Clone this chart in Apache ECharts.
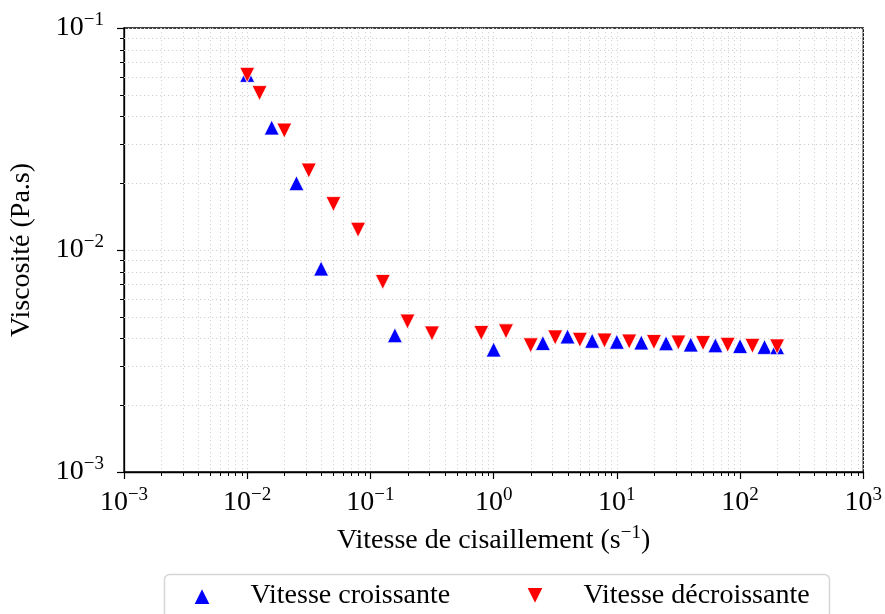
<!DOCTYPE html>
<html><head><meta charset="utf-8">
<script src="https://cdn.jsdelivr.net/npm/echarts@6/dist/echarts.min.js"></script>
<style>html,body{margin:0;padding:0;background:#fff}#c{width:885px;height:614px}</style>
</head><body><div id="c"></div>
<script>
// ---- data ----
const seriesNames = ['Vitesse croissante', 'Vitesse décroissante'];
const increasingShearRate = [0.01, 0.0158, 0.0251, 0.0398, 0.158, 1.0, 2.51, 3.98, 6.31, 10, 15.8, 25.1, 39.8, 63.1, 100, 158, 200];
const increasingViscosity = [0.0615, 0.0356, 0.0200, 0.00825, 0.00413, 0.00356, 0.00381, 0.00408, 0.00390, 0.00386, 0.00383, 0.00380, 0.00375, 0.00372, 0.00369, 0.00366, 0.00365];
const decreasingShearRate = [0.01, 0.0126, 0.02, 0.0316, 0.0501, 0.0794, 0.126, 0.2, 0.316, 0.794, 1.26, 2.0, 3.16, 5.01, 7.94, 12.6, 20, 31.6, 50.1, 79.4, 126, 200];
const decreasingViscosity = [0.0615, 0.0509, 0.0345, 0.0228, 0.0161, 0.01234, 0.00718, 0.00476, 0.00421, 0.00423, 0.00430, 0.00372, 0.00404, 0.00394, 0.00391, 0.00387, 0.00385, 0.00383, 0.00381, 0.00374, 0.00370, 0.00368];
const xTickExponents = [-3, -2, -1, 0, 1, 2, 3];
const yTickExponents = [-3, -2, -1];
const minorMultipliers = [2, 3, 4, 5, 6, 7, 8, 9];
const xAxisTitle = ['Vitesse de cisaillement (s', '−1', ')'];
const yAxisTitle = 'Viscosité (Pa.s)';

// ---- styles ----
const FONT = 'Liberation Serif';
const xMin = Math.pow(10, xTickExponents[0]), xMax = Math.pow(10, xTickExponents[xTickExponents.length - 1]);
const yMin = Math.pow(10, yTickExponents[0]), yMax = Math.pow(10, yTickExponents[yTickExponents.length - 1]);
const gridDash = { color: '#d2d2d2', width: 1, type: [1.2, 2.8] };
const richPow = {
  b: { fontFamily: FONT, fontSize: 28, lineHeight: 34, color: '#000' },
  s: { fontFamily: FONT, fontSize: 19, lineHeight: 18, verticalAlign: 'top', color: '#000' }
};
function powLabel(v) {
  const e = Math.round(Math.log10(v));
  return '{b|10}{s|' + (e < 0 ? '−' : '') + Math.abs(e) + '}';
}
function zip(a, b) { return a.map((v, i) => [v, b[i]]); }

const chart = echarts.init(document.getElementById('c'), null, { renderer: 'canvas' });
chart.setOption({
  animation: false,
  backgroundColor: '#fff',
  grid: { left: 123, right: 18, top: 28, bottom: 142, show: true, borderColor: '#000', borderWidth: 1.3, backgroundColor: 'transparent' },
  xAxis: {
    type: 'log', logBase: 10, min: xMin, max: xMax, splitNumber: xTickExponents.length - 1,
    axisLine: { lineStyle: { color: '#000', width: 1.3 } },
    axisTick: { length: 7, lineStyle: { color: '#000', width: 1.2 } },
    axisLabel: { formatter: powLabel, rich: richPow, margin: 14, showMinLabel: true, showMaxLabel: true },
    splitLine: { show: true, lineStyle: gridDash },
    name: '{n|' + xAxisTitle[0] + '}{s|' + xAxisTitle[1] + '}{n|' + xAxisTitle[2] + '}',
    nameLocation: 'middle', nameGap: 52,
    nameTextStyle: { rich: {
      n: { fontFamily: FONT, fontSize: 28, lineHeight: 34, color: '#000' },
      s: { fontFamily: FONT, fontSize: 19, lineHeight: 18, verticalAlign: 'top', color: '#000' }
    } }
  },
  yAxis: {
    type: 'log', logBase: 10, min: yMin, max: yMax, splitNumber: yTickExponents.length - 1,
    axisLine: { lineStyle: { color: '#000', width: 1.3 } },
    axisTick: { length: 7, lineStyle: { color: '#000', width: 1.2 } },
    axisLabel: { formatter: powLabel, rich: richPow, margin: 20, showMinLabel: true, showMaxLabel: true },
    splitLine: { show: true, lineStyle: gridDash },
    name: yAxisTitle, nameLocation: 'middle', nameRotate: 90, nameGap: 88,
    nameTextStyle: { fontFamily: FONT, fontSize: 28, color: '#000' }
  },
  graphic: [{
    type: 'rect', z: 0, silent: true,
    shape: { x: 164.5, y: 574.5, width: 665, height: 70, r: 5 },
    style: { fill: '#fff', stroke: '#d6d6d6', lineWidth: 1.5 }
  }],
  legend: [
    { left: 192, top: 580, padding: 0, itemWidth: 19, itemHeight: 18, z: 10, selectedMode: false,
      data: [{ name: seriesNames[0], icon: 'path://M1,0L2,2L0,2Z' }],
      textStyle: { fontFamily: FONT, fontSize: 28, lineHeight: 32, color: '#000', padding: [0, 0, 0, 34] } },
    { left: 525, top: 580, padding: 0, itemWidth: 19, itemHeight: 18, z: 10, selectedMode: false,
      data: [{ name: seriesNames[1], icon: 'path://M0,0L2,0L1,2Z' }],
      textStyle: { fontFamily: FONT, fontSize: 28, lineHeight: 32, color: '#000', padding: [0, 0, 0, 34] } }
  ],
  series: [
    {
      type: 'custom', name: 'minor', silent: true, clip: false, z: 1,
      data: [[1, 0.01]],
      renderItem: function (params, api) {
        const cs = params.coordSys;
        const ch = [];
        const dot = { stroke: '#d2d2d2', lineWidth: 1, lineDash: [1.2, 2.8], fill: null };
        const tk = { stroke: '#000', lineWidth: 1, fill: null };
        for (let i = 0; i < xTickExponents.length - 1; i++) {
          for (const m of minorMultipliers) {
            const px = Math.round(api.coord([m * Math.pow(10, xTickExponents[i]), yMin])[0]) + 0.5;
            ch.push({ type: 'line', shape: { x1: px, y1: cs.y, x2: px, y2: cs.y + cs.height }, style: dot });
            ch.push({ type: 'line', shape: { x1: px, y1: cs.y + cs.height, x2: px, y2: cs.y + cs.height + 4 }, style: tk });
          }
        }
        for (let i = 0; i < yTickExponents.length - 1; i++) {
          for (const m of minorMultipliers) {
            const py = Math.round(api.coord([xMin, m * Math.pow(10, yTickExponents[i])])[1]) + 0.5;
            ch.push({ type: 'line', shape: { x1: cs.x, y1: py, x2: cs.x + cs.width, y2: py }, style: dot });
            ch.push({ type: 'line', shape: { x1: cs.x - 4, y1: py, x2: cs.x, y2: py }, style: tk });
          }
        }
        return { type: 'group', children: ch };
      }
    },
    {
      type: 'scatter', name: seriesNames[0], z: 3,
      data: zip(increasingShearRate, increasingViscosity),
      symbol: 'triangle', symbolSize: 15,
      itemStyle: { color: '#0000ff', borderColor: '#fff', borderWidth: 0.8, opacity: 1 },
      emphasis: { disabled: true }
    },
    {
      type: 'scatter', name: seriesNames[1], z: 4,
      data: zip(decreasingShearRate, decreasingViscosity),
      symbol: 'triangle', symbolSize: 15, symbolRotate: 180,
      itemStyle: { color: '#ff0000', borderColor: '#fff', borderWidth: 0.8, opacity: 1 },
      emphasis: { disabled: true }
    }
  ]
});
</script>
</body></html>
